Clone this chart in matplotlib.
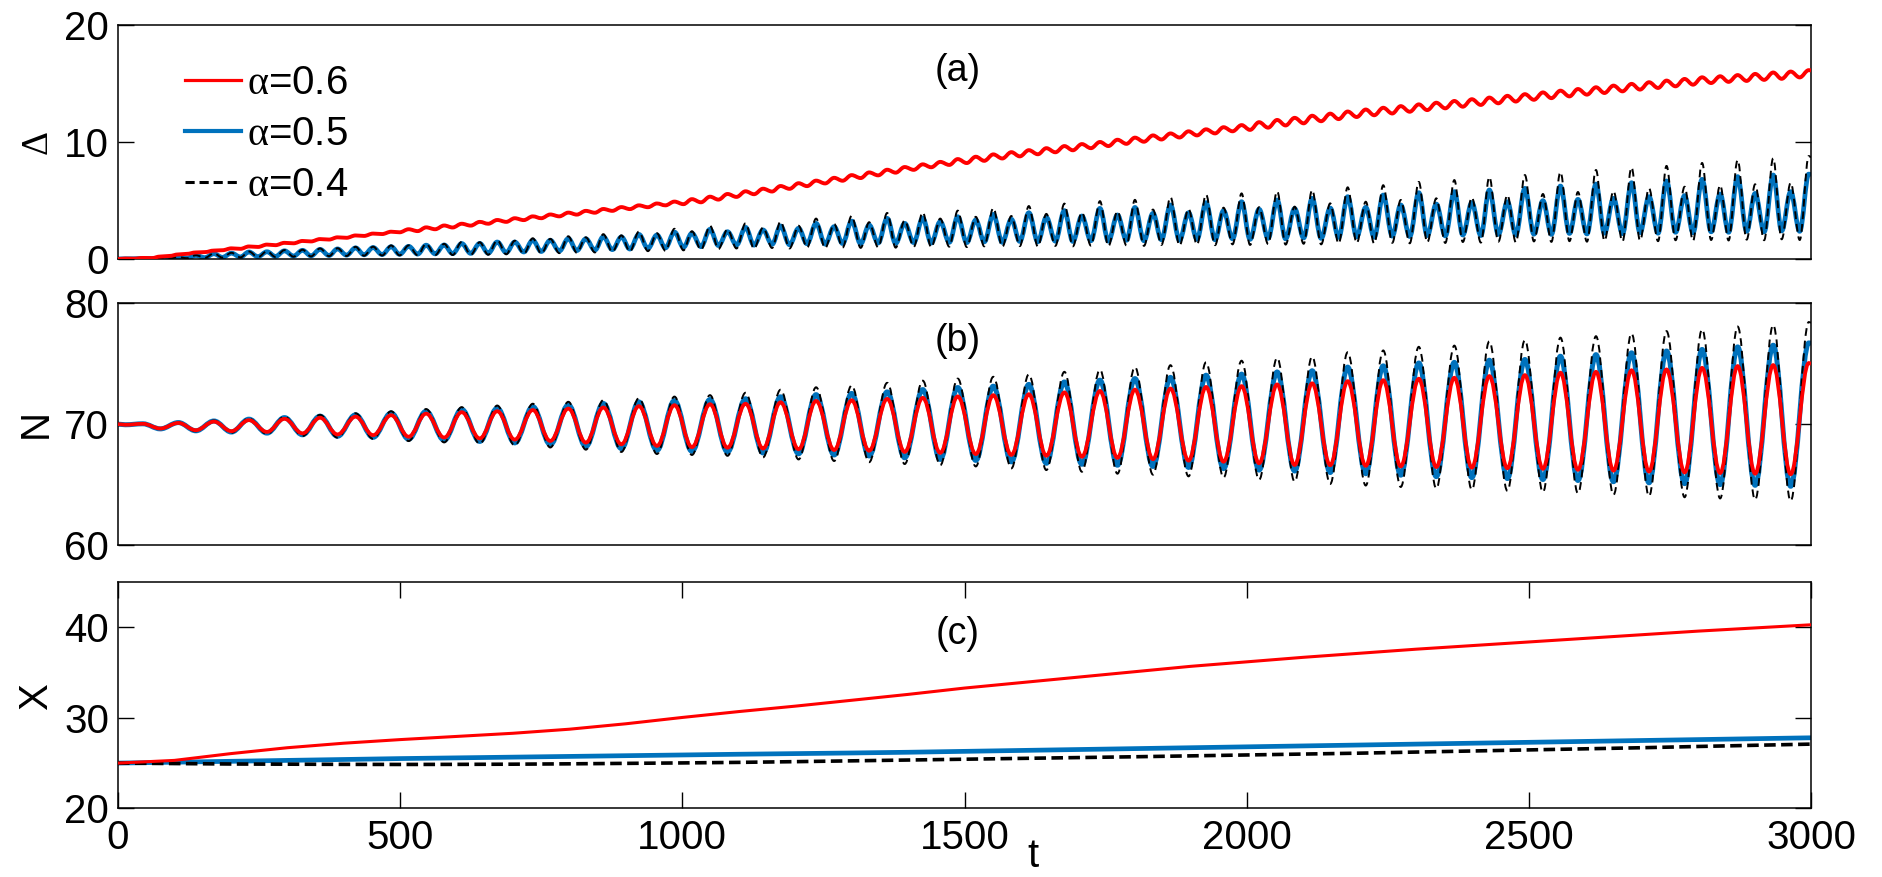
import numpy as np
import matplotlib
matplotlib.use('Agg')
import matplotlib.pyplot as plt
from matplotlib.lines import Line2D
from matplotlib.path import Path
from matplotlib.patches import PathPatch

plt.rcParams['font.family'] = ['Liberation Sans', 'DejaVu Sans']
plt.rcParams['mathtext.fontset'] = 'custom'
plt.rcParams['mathtext.rm'] = 'Liberation Serif'
plt.rcParams['mathtext.it'] = 'Liberation Serif:italic'

# ---------------- data ----------------
alphas = ['0.6', '0.5', '0.4']

# times of the N maxima / minima and of the Delta minima
t_peak = [44, 107, 170, 232, 295, 358, 421, 484, 546, 609, 672, 735, 798, 860, 923, 986,
          1049, 1112, 1174, 1237, 1300, 1363, 1426, 1488, 1551, 1614, 1677, 1740, 1802, 1865,
          1928, 1991, 2054, 2116, 2179, 2242, 2305, 2368, 2430, 2493, 2556, 2619, 2682, 2744,
          2807, 2870, 2933, 2996]
t_trough = [13, 75, 138, 201, 264, 327, 389, 452, 515, 578, 641, 703, 766, 829, 892, 955,
            1017, 1080, 1143, 1206, 1269, 1331, 1394, 1457, 1520, 1583, 1645, 1708, 1771, 1834,
            1897, 1959, 2022, 2085, 2148, 2211, 2273, 2336, 2399, 2462, 2525, 2587, 2650, 2713,
            2776, 2839, 2901, 2964]
t_dmin = [28, 60, 91, 122, 154, 185, 217, 248, 279, 311, 342, 374, 405, 436, 468, 499, 531,
          562, 593, 625, 656, 688, 719, 750, 782, 813, 845, 876, 907, 939, 970, 1002, 1033,
          1064, 1096, 1127, 1159, 1190, 1221, 1253, 1284, 1316, 1347, 1378, 1410, 1441, 1473,
          1504, 1535, 1567, 1598, 1630, 1661, 1692, 1724, 1755, 1787, 1818, 1849, 1881, 1912,
          1944, 1975, 2006, 2038, 2069, 2101, 2132, 2163, 2195, 2226, 2258, 2289, 2320, 2352,
          2383, 2415, 2446, 2477, 2509, 2540, 2572, 2603, 2634, 2666, 2697, 2729, 2760, 2791,
          2823, 2854, 2886, 2917, 2948, 2980]
t_start, t_end = 0, 3000

# ----- panel (a): Delta -----
D06_at_trough = [0.04, 0.21, 0.56, 0.91, 1.23, 1.54, 1.85, 2.17, 2.54, 2.86, 3.17, 3.48, 3.80,
                 4.11, 4.43, 4.74, 5.11, 5.55, 6.00, 6.47, 6.93, 7.39, 7.85, 8.29, 8.73, 9.12,
                 9.46, 9.81, 10.18, 10.55, 10.90, 11.25, 11.68, 12.05, 12.41, 12.76, 13.05,
                 13.34, 13.64, 13.93, 14.22, 14.51, 14.80, 15.09, 15.37, 15.60, 15.80, 16.00]
D06_at_peak = [0.09, 0.39, 0.72, 1.07, 1.38, 1.70, 2.01, 2.33, 2.70, 3.01, 3.33, 3.64, 3.96,
               4.27, 4.58, 4.90, 5.32, 5.78, 6.23, 6.69, 7.16, 7.62, 8.08, 8.53, 8.93, 9.29,
               9.64, 9.99, 10.36, 10.72, 11.07, 11.43, 11.87, 12.23, 12.59, 12.91, 13.20,
               13.49, 13.78, 14.07, 14.37, 14.66, 14.95, 15.23, 15.51, 15.70, 15.92, 16.12]
D06_min = [0.03, 0.08, 0.26, 0.44, 0.59, 0.75, 0.87, 1.03, 1.18, 1.34,
           1.50, 1.66, 1.81, 1.97, 2.13, 2.28, 2.38, 2.54, 2.69, 2.85,
           3.01, 3.17, 3.32, 3.48, 3.64, 3.79, 3.95, 4.11, 4.26, 4.42,
           4.58, 4.68, 4.84, 5.07, 5.30, 5.53, 5.76, 5.99, 6.22, 6.45,
           6.68, 6.91, 7.14, 7.37, 7.61, 7.83, 8.03, 8.19, 8.38, 8.58,
           8.76, 8.94, 9.11, 9.28, 9.46, 9.64, 9.83, 10.01, 10.20, 10.37,
           10.55, 10.72, 10.90, 11.02, 11.21, 11.40, 11.58, 11.76, 11.94, 12.12,
           12.27, 12.42, 12.57, 12.71, 12.86, 13.00, 13.15, 13.29, 13.44, 13.59,
           13.73, 13.88, 14.03, 14.17, 14.31, 14.46, 14.60, 14.74, 14.88, 15.02,
           15.12, 15.20, 15.29, 15.38, 15.50]
D06_end = 16.1

D05_tall = [0.05, 0.15, 0.45, 0.60, 0.70, 0.82, 0.95, 1.05, 1.18, 1.32, 1.45, 1.60, 1.75,
            1.90, 2.10, 2.30, 2.53, 2.70, 2.82, 3.04, 3.24, 3.47, 3.50, 3.61, 3.81, 3.95,
            4.13, 4.32, 4.40, 4.61, 4.81, 4.89, 5.04, 5.18, 5.32, 5.46, 5.66, 5.75, 5.89,
            6.03, 6.23, 6.40, 6.51, 6.66, 6.80, 7.03, 7.17, 7.25]
D05_short = [0.02, 0.10, 0.30, 0.50, 0.62, 0.74, 0.86, 0.98, 1.08, 1.20, 1.33, 1.45, 1.60,
             1.72, 1.88, 2.05, 2.20, 2.33, 2.48, 2.62, 2.76, 2.90, 3.04, 3.19, 3.33, 3.39,
             3.56, 3.67, 3.76, 3.90, 3.95, 4.13, 4.25, 4.30, 4.35, 4.41, 4.61, 4.69, 4.81,
             4.89, 4.98, 5.09, 5.18, 5.32, 5.41, 5.55, 5.60, 5.75]
D05_min = [0.02, 0.03, 0.05, 0.08, 0.12, 0.14, 0.17, 0.20, 0.22, 0.25,
           0.27, 0.30, 0.33, 0.36, 0.38, 0.40, 0.42, 0.44, 0.46, 0.48,
           0.50, 0.55, 0.60, 0.64, 0.68, 0.72, 0.76, 0.80, 0.85, 0.90,
           0.95, 1.00, 1.05, 1.15, 1.20, 1.18, 1.25, 1.22, 1.30, 1.27,
           1.32, 1.30, 1.36, 1.33, 1.40, 1.36, 1.42, 1.40, 1.46, 1.42,
           1.50, 1.46, 1.52, 1.50, 1.56, 1.52, 1.60, 1.56, 1.64, 1.60,
           1.68, 1.64, 1.72, 1.68, 1.76, 1.72, 1.80, 1.76, 1.84, 1.90,
           1.86, 1.95, 1.92, 2.00, 1.97, 2.05, 2.00, 2.10, 2.05, 2.12,
           2.10, 2.18, 2.14, 2.20, 2.16, 2.25, 2.20, 2.28, 2.24, 2.32,
           2.28, 2.36, 2.32, 2.40, 2.36]
D05_end = 7.2

D04_tall = [0.05, 0.16, 0.48, 0.64, 0.76, 0.90, 1.04, 1.16, 1.30, 1.46, 1.60, 1.77, 1.94,
            2.12, 2.34, 2.58, 2.85, 3.05, 3.20, 3.45, 3.68, 3.93, 3.98, 4.13, 4.35, 4.52,
            4.73, 4.94, 5.05, 5.28, 5.50, 5.60, 5.78, 5.89, 6.12, 6.30, 6.58, 6.74, 7.00,
            7.17, 7.42, 7.60, 7.82, 7.95, 8.20, 8.45, 8.60, 8.79]
D04_short = [0.02, 0.10, 0.32, 0.53, 0.66, 0.79, 0.92, 1.05, 1.16, 1.29, 1.43, 1.56, 1.72,
             1.85, 2.02, 2.20, 2.37, 2.53, 2.69, 2.84, 2.99, 3.14, 3.29, 3.45, 3.60, 3.67,
             3.85, 3.97, 4.07, 4.22, 4.28, 4.38, 4.42, 4.47, 4.75, 4.89, 5.04, 5.18, 5.25,
             5.46, 5.55, 5.72, 5.80, 6.03, 6.17, 6.30, 6.38, 6.51]
D04_min = [0.02, 0.03, 0.05, 0.07, 0.10, 0.12, 0.14, 0.16, 0.18, 0.20,
           0.22, 0.24, 0.26, 0.28, 0.30, 0.31, 0.32, 0.33, 0.34, 0.35,
           0.36, 0.40, 0.43, 0.46, 0.50, 0.53, 0.56, 0.60, 0.63, 0.67,
           0.70, 0.74, 0.78, 0.85, 0.90, 0.88, 0.94, 0.90, 0.97, 0.93,
           0.98, 0.95, 1.00, 0.97, 1.03, 0.99, 1.05, 1.02, 1.08, 1.04,
           1.10, 1.06, 1.12, 1.08, 1.14, 1.10, 1.16, 1.12, 1.20, 1.15,
           1.22, 1.18, 1.25, 1.20, 1.28, 1.23, 1.30, 1.25, 1.32, 1.36,
           1.32, 1.38, 1.34, 1.42, 1.37, 1.45, 1.40, 1.48, 1.42, 1.50,
           1.46, 1.52, 1.48, 1.55, 1.50, 1.58, 1.52, 1.60, 1.55, 1.62,
           1.58, 1.65, 1.60, 1.68, 1.62]
D04_end = 8.7

# ----- panel (b): N -----
N_start = 70.0
N06_peak = [70.03, 70.10, 70.21, 70.33, 70.44, 70.53, 70.62, 70.74, 70.87, 70.99, 71.07, 71.17,
            71.29, 71.38, 71.49, 71.57, 71.65, 71.69, 71.81, 71.92, 71.98, 72.09, 72.18, 72.30,
            72.40, 72.48, 72.63, 72.75, 72.86, 72.95, 73.08, 73.15, 73.29, 73.38, 73.56, 73.64,
            73.76, 73.84, 73.98, 74.06, 74.26, 74.33, 74.46, 74.53, 74.66, 74.81, 74.89, 75.06]
N06_trough = [69.95, 69.64, 69.50, 69.42, 69.36, 69.24, 69.15, 69.09, 68.96, 68.89, 68.82, 68.72,
              68.61, 68.47, 68.33, 68.20, 68.10, 68.05, 67.98, 67.92, 67.86, 67.80, 67.70, 67.62,
              67.52, 67.45, 67.38, 67.30, 67.21, 67.10, 66.98, 66.89, 66.76, 66.62, 66.60, 66.55,
              66.50, 66.45, 66.40, 66.35, 66.30, 66.22, 66.15, 66.08, 66.00, 65.95, 65.90, 65.85]
N06_end = 75.0
N05_peak = [70.03, 70.13, 70.26, 70.41, 70.54, 70.66, 70.77, 70.92, 71.07, 71.22, 71.32, 71.45,
            71.59, 71.71, 71.84, 71.95, 72.04, 72.10, 72.26, 72.44, 72.54, 72.67, 72.86, 73.03,
            73.14, 73.29, 73.49, 73.64, 73.77, 73.87, 74.05, 74.14, 74.32, 74.42, 74.72, 74.82,
            75.06, 75.11, 75.29, 75.35, 75.62, 75.75, 75.90, 76.05, 76.18, 76.39, 76.53, 76.72]
N05_trough = [69.95, 69.61, 69.45, 69.35, 69.26, 69.12, 69.00, 68.91, 68.76, 68.67, 68.57, 68.45,
              68.31, 68.15, 67.98, 67.83, 67.75, 67.70, 67.62, 67.55, 67.45, 67.37, 67.22, 67.08,
              67.00, 66.88, 66.76, 66.68, 66.60, 66.50, 66.42, 66.32, 66.20, 66.12, 66.00, 65.90,
              65.78, 65.66, 65.58, 65.50, 65.42, 65.34, 65.24, 65.15, 65.08, 65.00, 64.94, 64.86]
N05_end = 76.7
N04_peak = [70.03, 70.15, 70.30, 70.47, 70.63, 70.77, 70.90, 71.07, 71.25, 71.41, 71.54, 71.69,
            71.85, 71.99, 72.15, 72.28, 72.40, 72.60, 72.85, 73.05, 73.20, 73.42, 73.60, 73.77,
            73.92, 74.12, 74.33, 74.50, 74.72, 74.88, 75.12, 75.25, 75.48, 75.58, 75.95, 76.10,
            76.40, 76.50, 76.85, 76.95, 77.16, 77.28, 77.50, 77.70, 77.84, 78.08, 78.20, 78.45]
N04_trough = [69.95, 69.60, 69.41, 69.29, 69.18, 69.02, 68.88, 68.78, 68.60, 68.49, 68.37, 68.23,
              68.07, 67.89, 67.70, 67.53, 67.45, 67.38, 67.25, 67.08, 66.95, 66.85, 66.70, 66.60,
              66.50, 66.34, 66.20, 66.06, 65.90, 65.82, 65.68, 65.58, 65.40, 65.25, 65.05, 64.92,
              64.80, 64.68, 64.58, 64.48, 64.38, 64.28, 64.15, 64.05, 63.95, 63.85, 63.75, 63.65]
N04_end = 78.4

# ----- panel (c): X -----
t_X = [0, 100, 200, 300, 400, 500, 600, 700, 800, 900, 1000, 1100, 1200, 1300, 1400, 1500,
       1600, 1700, 1800, 1900, 2000, 2100, 2200, 2300, 2400, 2500, 2600, 2700, 2800, 2900, 3000]
X06 = [25.0, 25.3, 26.05, 26.7, 27.2, 27.6, 27.95, 28.3, 28.75, 29.35, 30.05, 30.7, 31.3, 31.95,
       32.6, 33.3, 33.9, 34.5, 35.1, 35.7, 36.2, 36.7, 37.15, 37.6, 38.0, 38.4, 38.8, 39.2,
       39.6, 39.95, 40.3]
X05 = [25.0, 25.1, 25.2, 25.3, 25.4, 25.5, 25.58, 25.66, 25.74, 25.82, 25.9, 25.98, 26.05,
       26.12, 26.2, 26.3, 26.4, 26.5, 26.6, 26.7, 26.8, 26.9, 27.0, 27.1, 27.2, 27.3, 27.4,
       27.5, 27.6, 27.7, 27.8]
X04 = [25.0, 24.95, 24.9, 24.88, 24.86, 24.85, 24.86, 24.88, 24.92, 24.97, 25.02, 25.08,
       25.16, 25.25, 25.34, 25.43, 25.52, 25.61, 25.7, 25.8, 25.9, 26.0, 26.1, 26.22, 26.34,
       26.46, 26.58, 26.7, 26.84, 26.97, 27.1]

x_ticks = [0, 500, 1000, 1500, 2000, 2500, 3000]


def series(tlists, vlists):
    t = np.concatenate([np.asarray(a, float) for a in tlists])
    v = np.concatenate([np.asarray(a, float) for a in vlists])
    assert len(t) == len(v)
    o = np.argsort(t, kind='stable')
    return t[o], v[o]


def smooth_line(ax, t, v, c=0.3642, **kw):
    """Line through the read extrema, drawn as a smooth curve with flat tangents."""
    verts = [(t[0], v[0])]
    codes = [Path.MOVETO]
    for i in range(len(t) - 1):
        dt = t[i + 1] - t[i]
        verts += [(t[i] + c * dt, v[i]), (t[i + 1] - c * dt, v[i + 1]), (t[i + 1], v[i + 1])]
        codes += [Path.CURVE4] * 3
    patch = PathPatch(Path(verts, codes), fill=False, transform=ax.transData,
                      capstyle='butt', joinstyle='round', **kw)
    ax.add_patch(patch)
    return patch


RED = '#FF0000'
BLUE = '#0072BD'
BLACK = '#000000'

W, H = 1882, 877
fig = plt.figure(figsize=(W / 100, H / 100), dpi=100)


def px_axes(x0, x1, y0, y1):
    return fig.add_axes([x0 / W, 1 - y1 / H, (x1 - x0) / W, (y1 - y0) / H])


axA = px_axes(118, 1811, 24.7, 259)
axB = px_axes(118, 1811, 303.3, 545)
axC = px_axes(118, 1811, 582.3, 808.3)

# panel (a)
tD = [[t_start], t_trough, t_peak, t_dmin, [t_end]]
ta, d05 = series(tD, [[0], D05_short, D05_tall, D05_min, [D05_end]])
_, d04 = series(tD, [[0], D04_short, D04_tall, D04_min, [D04_end]])
_, d06 = series(tD, [[0], D06_at_trough, D06_at_peak, D06_min, [D06_end]])
smooth_line(axA, ta, d05, edgecolor=BLUE, lw=3.4, zorder=2)
smooth_line(axA, ta, d04, edgecolor=BLACK, lw=1.4, linestyle=(0, (4, 2.5)), zorder=3)
smooth_line(axA, ta, d06, edgecolor=RED, lw=2.8, zorder=4)

# panel (b)
tN = [[t_start], t_trough, t_peak, [t_end]]
tb, n05 = series(tN, [[N_start], N05_trough, N05_peak, [N05_end]])
_, n04 = series(tN, [[N_start], N04_trough, N04_peak, [N04_end]])
_, n06 = series(tN, [[N_start], N06_trough, N06_peak, [N06_end]])
smooth_line(axB, tb, n05, edgecolor=BLUE, lw=3.6, zorder=2)
smooth_line(axB, tb, n04, edgecolor=BLACK, lw=1.4, linestyle=(0, (4, 2.5)), zorder=3)
smooth_line(axB, tb, n06, edgecolor=RED, lw=2.7, zorder=4)

# panel (c)
axC.plot(t_X, X05, color=BLUE, lw=3.4, zorder=2)
axC.plot(t_X, X04, color=BLACK, lw=2.6, ls=(0, (3.2, 1.5)), zorder=3)
axC.plot(t_X, X06, color=RED, lw=2.2, zorder=4)

for ax, ylim, yt in [(axA, (0, 20), [0, 10, 20]),
                     (axB, (60, 80), [60, 70, 80]),
                     (axC, (20, 45), [20, 30, 40])]:
    ax.set_xlim(0, 3000)
    ax.set_ylim(*ylim)
    ax.set_yticks(yt)
    ax.set_xticks(x_ticks)
    for s in ax.spines.values():
        s.set_linewidth(1.1)
    ax.tick_params(axis='y', direction='in', length=11.5, width=1.0, left=True, right=True,
                   labelsize=29, pad=6.5)
    ax.tick_params(axis='x', direction='in', length=11.5, width=1.0, top=True, bottom=True,
                   labelsize=29, pad=8)

for ax in (axA, axB):
    ax.tick_params(axis='x', which='both', length=0, labelbottom=False)

# labels
fig.text(37 / W, 1 - 142 / H, 'Δ', rotation=90, ha='center', va='center', fontsize=27,
         family=['Liberation Serif', 'DejaVu Serif'])
fig.text(36 / W, 1 - 424 / H, 'N', rotation=90, ha='center', va='center', fontsize=29)
fig.text(36.5 / W, 1 - 697 / H, 'X', rotation=90, ha='center', va='center', fontsize=29)
fig.text(1033 / W, 1 - 867 / H, 't', ha='center', va='baseline', fontsize=29)

axA.text(0.496, 0.802, '(a)', transform=axA.transAxes, ha='center', va='center', fontsize=27)
axB.text(0.496, 0.844, '(b)', transform=axB.transAxes, ha='center', va='center', fontsize=27)
axC.text(0.496, 0.771, '(c)', transform=axC.transAxes, ha='center', va='center', fontsize=27)

# legend
handles = [Line2D([], [], color=RED, lw=2.3),
           Line2D([], [], color=BLUE, lw=3.0),
           Line2D([], [], color=BLACK, lw=2.2, ls=(0, (3, 1.6)))]
labels = [r'$\mathrm{\alpha}$=' + a for a in alphas]
axA.legend(handles, labels, loc='center left', bbox_to_anchor=(0.0396, 0.533),
           frameon=False, fontsize=29, handlelength=1.38, handletextpad=0.15,
           labelspacing=0.33, borderpad=0, borderaxespad=0)

fig.savefig('out.png', dpi=100)
